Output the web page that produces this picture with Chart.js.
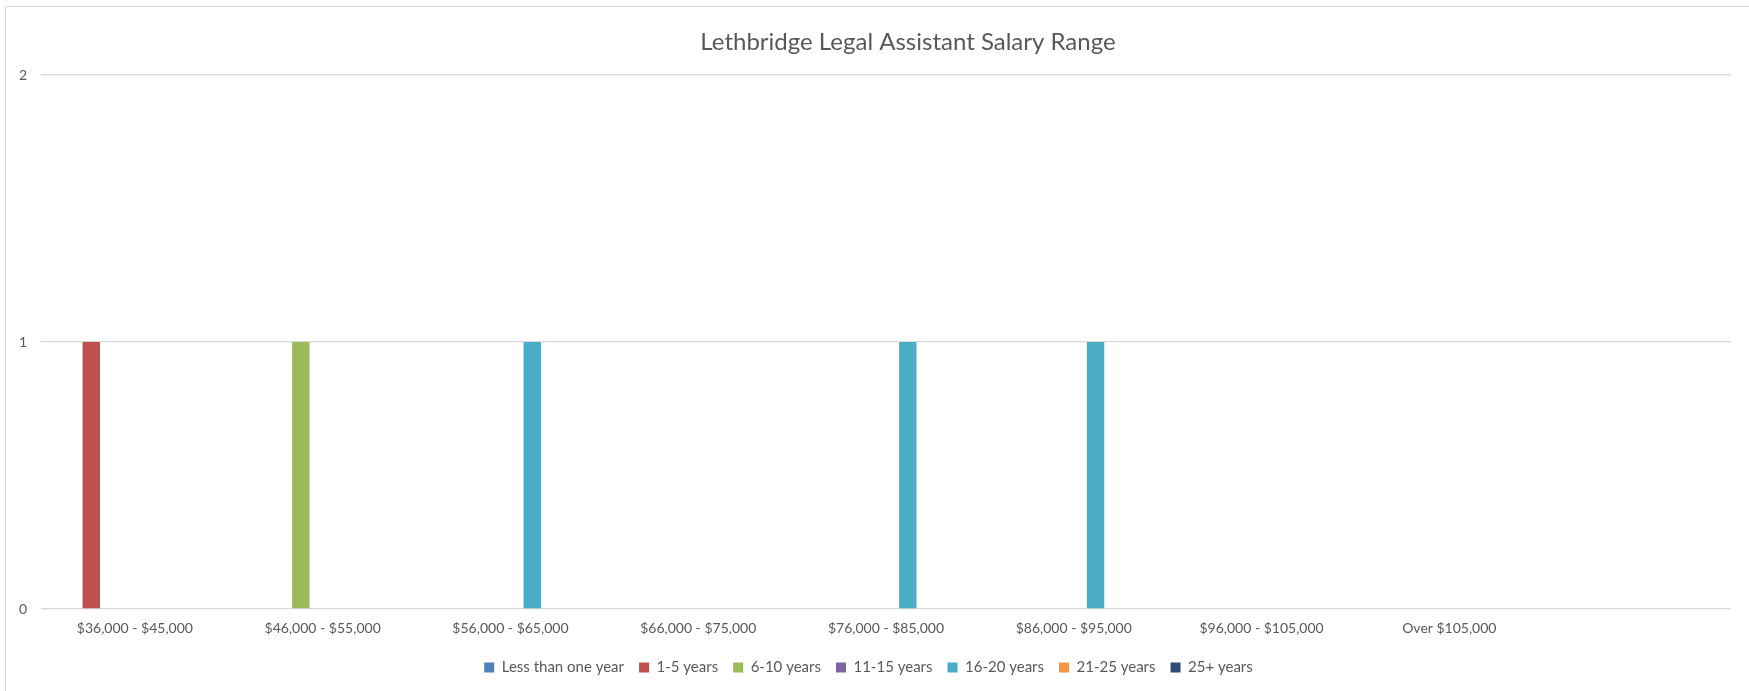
<!DOCTYPE html>
<html>
<head>
<meta charset="utf-8">
<script src="https://cdn.jsdelivr.net/npm/chart.js@4.4.0/dist/chart.umd.min.js"></script>
<style>
  html, body { margin: 0; padding: 0; background: #fff; overflow: hidden; }
  #frame { position: absolute; left: 5px; top: 6px; width: 1800px; height: 700px;
           border-left: 1px solid #d9d9d9; border-top: 1px solid #d9d9d9; }
  #wrap { position: absolute; left: 0; top: 0; width: 1749px; height: 691px; }
</style>
</head>
<body>
<div id="frame"></div>
<div id="wrap"><canvas id="salaryChart" width="1749" height="691"></canvas></div>
<script>
const chartTitle = "Lethbridge Legal Assistant Salary Range";
const salaryRanges = [
    "$36,000 - $45,000", "$46,000 - $55,000", "$56,000 - $65,000",
    "$66,000 - $75,000", "$76,000 - $85,000", "$86,000 - $95,000",
    "$96,000 - $105,000", "Over $105,000", ""
];
const lessThanOne = [0, 0, 0, 0, 0, 0, 0, 0, 0];
const years1to5   = [1, 0, 0, 0, 0, 0, 0, 0, 0];
const years6to10  = [0, 1, 0, 0, 0, 0, 0, 0, 0];
const years11to15 = [0, 0, 0, 0, 0, 0, 0, 0, 0];
const years16to20 = [0, 0, 1, 0, 1, 1, 0, 0, 0];
const years21to25 = [0, 0, 0, 0, 0, 0, 0, 0, 0];
const years25plus = [0, 0, 0, 0, 0, 0, 0, 0, 0];
const yTicks = [0, 1, 2];

const textColor = "#595959";
const fontFamily = "Lato, 'Open Sans', sans-serif";

// title is centred a bit right of the plot, like the original sheet
const titlePlugin = {
    id: "sheetTitle",
    afterDraw(chart) {
        const ctx = chart.ctx;
        ctx.save();
        ctx.fillStyle = textColor;
        ctx.font = "24px " + fontFamily;
        ctx.textAlign = "center";
        ctx.textBaseline = "middle";
        ctx.fillText(chartTitle, 908, 42);
        ctx.restore();
    }
};

const ctx = document.getElementById("salaryChart").getContext("2d");
new Chart(ctx, {
    type: "bar",
    data: {
        labels: salaryRanges,
        datasets: [
            { label: "Less than one year", data: lessThanOne, backgroundColor: "#4f81bd" },
            { label: "1-5 years", data: years1to5, backgroundColor: "#c0504d" },
            { label: "6-10 years", data: years6to10, backgroundColor: "#9bbb59" },
            { label: "11-15 years", data: years11to15, backgroundColor: "#8064a2" },
            { label: "16-20 years", data: years16to20, backgroundColor: "#4bacc6" },
            { label: "21-25 years", data: years21to25, backgroundColor: "#f79646" },
            { label: "25+ years", data: years25plus, backgroundColor: "#2c4d75" }
        ]
    },
    plugins: [titlePlugin],
    options: {
        responsive: false,
        animation: false,
        datasets: {
            bar: { categoryPercentage: 0.8126, barPercentage: 0.8, borderWidth: 0 }
        },
        layout: { padding: { top: 75, left: 6, right: 18, bottom: 6 } },
        scales: {
            x: {
                grid: { display: false, drawTicks: false },
                border: { display: false },
                ticks: { color: textColor, padding: 11, maxRotation: 0, autoSkip: false,
                         font: { family: fontFamily, size: 14 } },
                afterFit(scale) { scale.height = 36; }
            },
            y: {
                min: yTicks[0],
                max: yTicks[yTicks.length - 1],
                afterBuildTicks(scale) { scale.ticks = yTicks.map(v => ({ value: v })); },
                grid: { color: "#d9d9d9", lineWidth: 1.3, drawTicks: false },
                border: { display: false },
                ticks: { color: textColor, padding: 14, font: { family: fontFamily, size: 14 } },
                afterFit(scale) { scale.width = 35; }
            }
        },
        plugins: {
            legend: {
                position: "bottom",
                labels: {
                    color: textColor,
                    boxWidth: 10,
                    boxHeight: 10,
                    padding: 15,
                    font: { family: fontFamily, size: 15 }
                }
            },
            title: { display: false },
            tooltip: { enabled: false }
        }
    }
});
</script>
</body>
</html>
